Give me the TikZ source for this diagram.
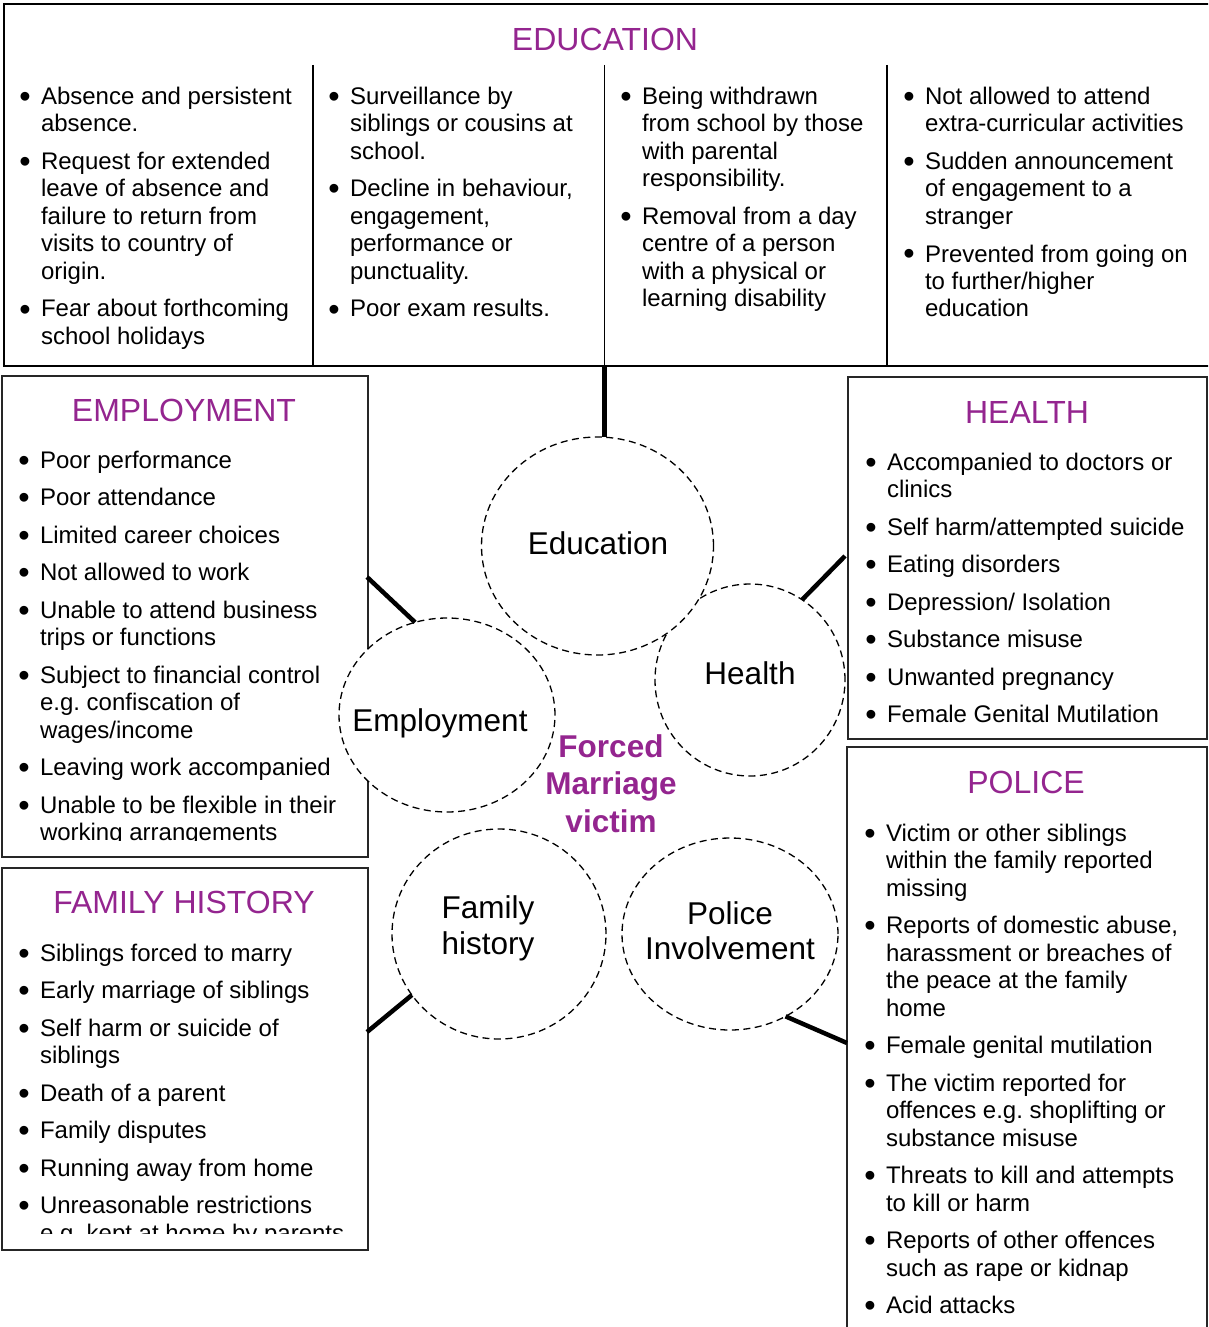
\documentclass[tikz,border=0pt]{standalone}
\usepackage{graphicx}
\usepackage{fontspec}
\setmainfont{Liberation Sans}
\usetikzlibrary{shapes.geometric}
\definecolor{fmpurple}{RGB}{148,37,143}
\newcommand\bdot{\raisebox{-3pt}{\scalebox{1.35}{•}}}
\newcommand\bi[1]{\par\hangindent=21pt\hangafter=1\noindent\makebox[21pt][l]{\hspace{-0.6pt}\bdot}#1\par}
\newcommand\blist[1]{\parbox[t]{400pt}{\fontsize{24}{27.5}\selectfont\setlength\parskip{10pt}\setlength\parindent{0pt}#1}}
\newcommand\clabel[2]{\parbox[t]{300pt}{\centering\fontsize{31.5}{#1}\selectfont #2}}
\begin{document}
\begin{tikzpicture}[x=1pt,y=-1pt,
  listnode/.style={anchor=base west, inner sep=0pt, outer sep=0pt},
  ttl/.style={anchor=base, inner sep=0pt, text=fmpurple, font=\fontsize{32}{38}\selectfont},
  boxst/.style={draw=black!85, line width=1.6pt, rectangle, anchor=north west, inner sep=0pt, outer sep=0pt},
  circ/.style={ellipse, draw, fill=white, line width=1.3pt, dash pattern=on 7pt off 4.5pt, inner sep=0pt, outer sep=0pt},
  lbl/.style={anchor=base, inner sep=0pt},
  conn/.style={line width=4.5pt}]
\useasboundingbox (0,0) rectangle (1208,1327);
\fill[white] (0,0) rectangle (1208,1327);
\clip (0,0) rectangle (1208,1327);

% ---------- Education box ----------
\node[boxst, draw=black, minimum width=1212pt, minimum height=362pt] (edubox) at (4,4) {};
\draw[line width=1.6pt] (313,65) -- (313,366);
\draw[line width=1.6pt] (604.5,65) -- (604.5,366);
\draw[line width=1.6pt] (887,65) -- (887,366);
\node[ttl] (edutitle) at (605,50.5) {EDUCATION};
\node[listnode] (edu1) at (20,104.5) {\blist{%
\bi{Absence and persistent\\absence.}
\bi{Request for extended\\leave of absence and\\failure to return from\\visits to country of\\origin.}
\bi{Fear about forthcoming\\school holidays}}};
\node[listnode] (edu2) at (329,104.5) {\blist{%
\bi{Surveillance by\\siblings or cousins at\\school.}
\bi{Decline in behaviour,\\engagement,\\performance or\\punctuality.}
\bi{Poor exam results.}}};
\node[listnode] (edu3) at (621,104.5) {\blist{%
\bi{Being withdrawn\\from school by those\\with parental\\responsibility.}
\bi{Removal from a day\\centre of a person\\with a physical or\\learning disability}}};
\node[listnode] (edu4) at (904,104.5) {\blist{%
\bi{Not allowed to attend\\extra-curricular activities}
\bi{Sudden announcement\\of engagement to a\\stranger}
\bi{Prevented from going on\\to further/higher\\education}}};

% ---------- Employment box ----------
\node[boxst, minimum width=366pt, minimum height=481pt] (empbox) at (2,376) {};
\node[ttl] (emptitle) at (184,421.5) {EMPLOYMENT};
\begin{scope}
\clip (2,376) rectangle (368,840);
\node[listnode] (emplist) at (19,468) {\blist{%
\bi{Poor performance}
\bi{Poor attendance}
\bi{Limited career choices}
\bi{Not allowed to work}
\bi{Unable to attend business\\trips or functions}
\bi{Subject to financial control\\e.g.\ confiscation of\\wages/income}
\bi{Leaving work accompanied}
\bi{Unable to be flexible in their\\working arrangements}}};
\end{scope}

% ---------- Family history box ----------
\node[boxst, minimum width=366pt, minimum height=382pt] (fambox) at (2,868) {};
\node[ttl] (famtitle) at (184,913.5) {FAMILY HISTORY};
\begin{scope}
\clip (2,868) rectangle (368,1233);
\node[listnode] (famlist) at (19,961) {\blist{%
\bi{Siblings forced to marry}
\bi{Early marriage of siblings}
\bi{Self harm or suicide of\\siblings}
\bi{Death of a parent}
\bi{Family disputes}
\bi{Running away from home}
\bi{Unreasonable restrictions\\e.g.\ kept at home by parents}}};
\end{scope}

% ---------- Health box ----------
\node[boxst, minimum width=359pt, minimum height=362pt] (heabox) at (848,377) {};
\node[ttl] (heatitle) at (1027,423.5) {HEALTH};
\node[listnode] (healist) at (866,470) {\blist{%
\bi{Accompanied to doctors or\\clinics}
\bi{Self harm/attempted suicide}
\bi{Eating disorders}
\bi{Depression/ Isolation}
\bi{Substance misuse}
\bi{Unwanted pregnancy}
\bi{Female Genital Mutilation}}};

% ---------- Police box ----------
\node[boxst, minimum width=360pt, minimum height=600pt] (polbox) at (847,747) {};
\node[ttl] (poltitle) at (1026,793.5) {POLICE};
\node[listnode] (pollist) at (865,841) {\blist{%
\bi{Victim or other siblings\\within the family reported\\missing}
\bi{Reports of domestic abuse,\\harassment or breaches of\\the peace at the family\\home}
\bi{Female genital mutilation}
\bi{The victim reported for\\offences e.g.\ shoplifting or\\substance misuse}
\bi{Threats to kill and attempts\\to kill or harm}
\bi{Reports of other offences\\such as rape or kidnap}
\bi{Acid attacks}}};

% ---------- Circles ----------
\node[circ, minimum width=190pt, minimum height=192pt] (chea) at (750,680) {};
\node[circ, minimum width=232pt, minimum height=218pt] (cedu) at (597.5,546) {};
\node[circ, minimum width=216pt, minimum height=194pt] (cemp) at (447,715) {};
\node[circ, minimum width=214pt, minimum height=210pt] (cfam) at (499,934) {};
\node[circ, minimum width=216pt, minimum height=192pt] (cpol) at (730,934) {};

\node[lbl] (ledu) at (598,554) {\fontsize{31.5}{36}\selectfont Education};
\node[lbl] (lhea) at (750,684) {\fontsize{31.5}{36}\selectfont Health};
\node[lbl] (lemp) at (440,731) {\fontsize{31.5}{36}\selectfont Employment};
\node[lbl] (lfam) at (488,918) {\clabel{36}{Family\\history}};
\node[lbl] (lpol) at (730,924) {\clabel{35}{Police\\Involvement}};
\node[lbl, text=fmpurple] (victim) at (611,757) {\parbox[t]{300pt}{\centering\bfseries\fontsize{31.5}{37.5}\selectfont Forced\\Marriage\\victim}};

% ---------- Connectors ----------
\coordinate (edutop) at (604.5,366);
\coordinate (empend) at (367,577);
\coordinate (heaend) at (845,556);
\coordinate (famend) at (367,1032);
\coordinate (polend) at (847,1043);
\draw[conn] (edutop) -- (edutop |- cedu.north);
\draw[conn] (empend) -- (cemp.109.5);
\draw[conn] (heaend) -- (chea.57.6);
\draw[conn] (famend) -- (cfam.215.5);
\draw[conn] (polend) -- (cpol.304.7);
\end{tikzpicture}
\end{document}
